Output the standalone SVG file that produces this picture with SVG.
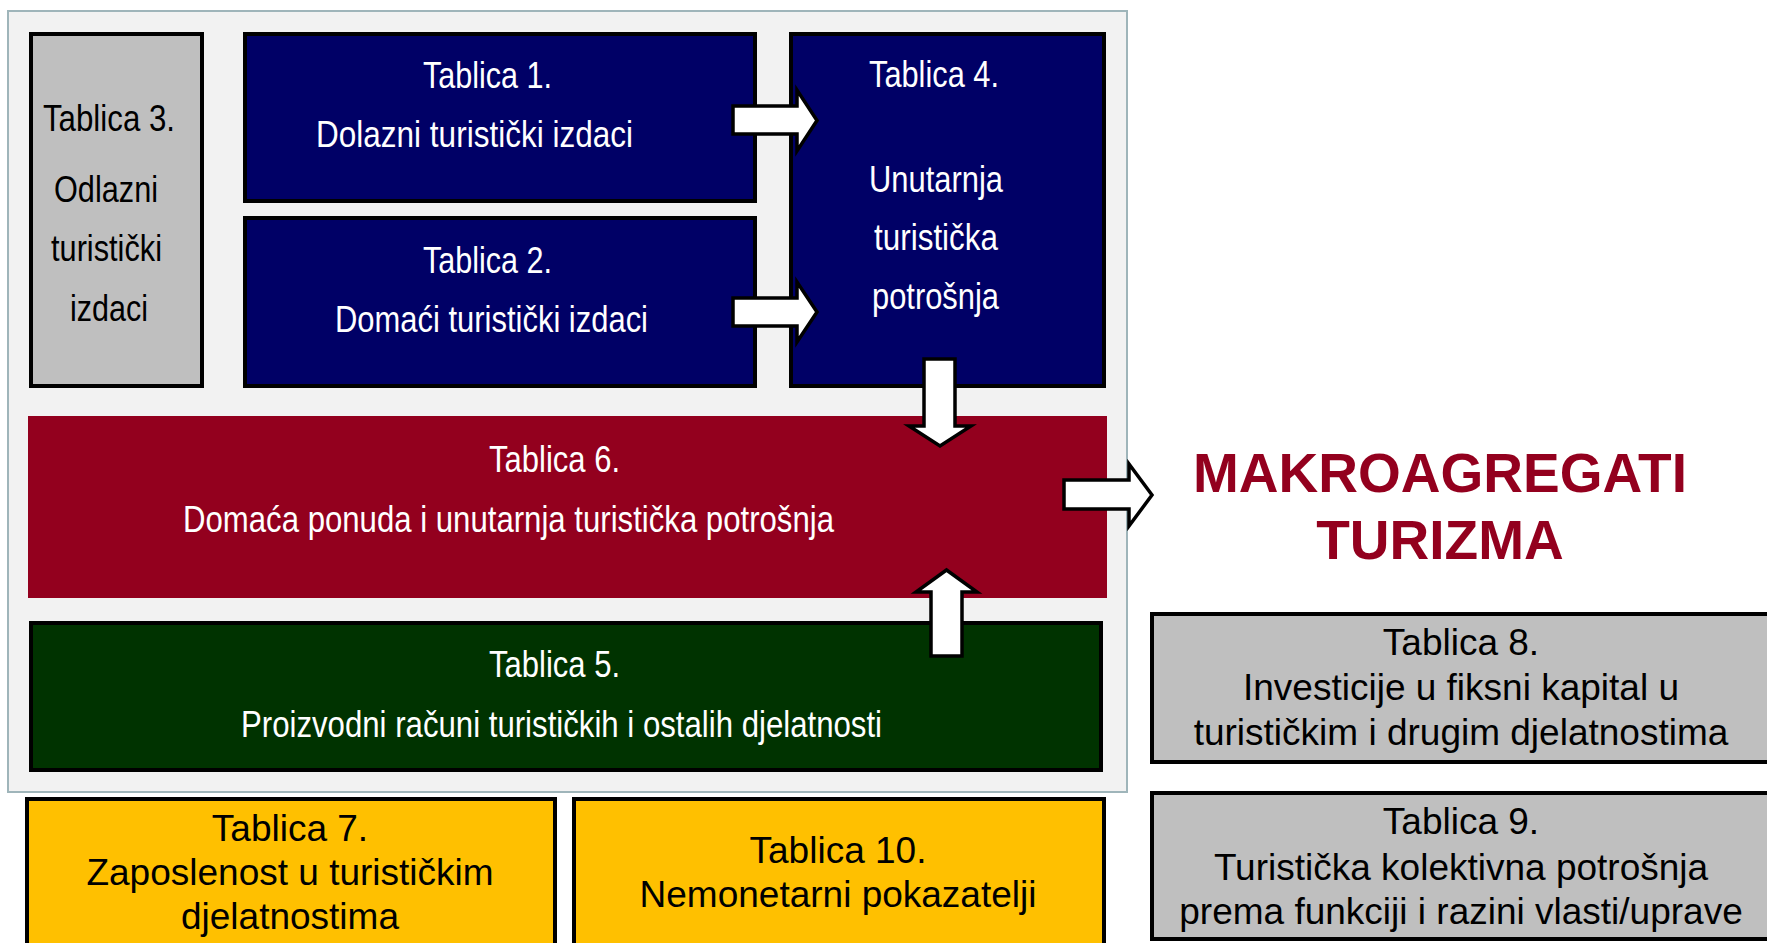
<svg xmlns="http://www.w3.org/2000/svg" width="1767" height="943" viewBox="0 0 1767 943">
<style>
.box{stroke:#000;stroke-width:4}
.navy{fill:#000066}
.gray{fill:#bfbfbf}
.yel{fill:#ffc000}
.grn{fill:#003300}
.red{fill:#93001e}
.tw{font-family:"Liberation Sans",Arial,sans-serif;font-size:36px;fill:#fff;text-anchor:middle}
.tk{font-family:"Liberation Sans",Arial,sans-serif;font-size:37px;fill:#000;text-anchor:middle}
.tkc{font-family:"Liberation Sans",Arial,sans-serif;font-size:36px;fill:#000;text-anchor:middle}
.big{font-family:"Liberation Sans",Arial,sans-serif;font-size:55px;font-weight:bold;fill:#93001e;text-anchor:middle}
.arr{fill:#fff;stroke:#000;stroke-width:3.5;stroke-linejoin:miter}
</style>
<rect width="1767" height="943" fill="#fff"/>
<g id="panel">
<rect x="8" y="11" width="1119" height="781" fill="#f2f2f2" stroke="#9fb5ba" stroke-width="2"/>
</g>
<g id="t3">
<rect class="box gray" x="31" y="34" width="171" height="352"/>
<text class="tkc" x="109" y="131" textLength="132" lengthAdjust="spacingAndGlyphs">Tablica 3.</text>
<text class="tkc" x="106" y="202" textLength="104" lengthAdjust="spacingAndGlyphs">Odlazni</text>
<text class="tkc" x="106.5" y="261" textLength="111" lengthAdjust="spacingAndGlyphs">turistički</text>
<text class="tkc" x="109" y="321" textLength="78" lengthAdjust="spacingAndGlyphs">izdaci</text>
</g>
<g id="t1">
<rect class="box navy" x="245" y="34" width="510" height="167"/>
<text class="tw" x="487.5" y="88" textLength="129" lengthAdjust="spacingAndGlyphs">Tablica 1.</text>
<text class="tw" x="474.5" y="147" textLength="317" lengthAdjust="spacingAndGlyphs">Dolazni  turistički izdaci</text>
</g>
<g id="t2">
<rect class="box navy" x="245" y="218" width="510" height="168"/>
<text class="tw" x="487.5" y="273" textLength="129" lengthAdjust="spacingAndGlyphs">Tablica 2.</text>
<text class="tw" x="491.5" y="332" textLength="313" lengthAdjust="spacingAndGlyphs">Domaći turistički izdaci</text>
</g>
<g id="t4">
<rect class="box navy" x="791" y="34" width="313" height="352"/>
<text class="tw" x="934" y="87" textLength="130" lengthAdjust="spacingAndGlyphs">Tablica 4.</text>
<text class="tw" x="936" y="192" textLength="134" lengthAdjust="spacingAndGlyphs">Unutarnja</text>
<text class="tw" x="936" y="250" textLength="124" lengthAdjust="spacingAndGlyphs">turistička</text>
<text class="tw" x="935.5" y="309" textLength="127" lengthAdjust="spacingAndGlyphs">potrošnja</text>
</g>
<g id="t6">
<rect class="red" x="28" y="416" width="1079" height="182"/>
<text class="tw" x="554.5" y="472" textLength="131" lengthAdjust="spacingAndGlyphs">Tablica 6.</text>
<text class="tw" x="508.5" y="532" textLength="651" lengthAdjust="spacingAndGlyphs">Domaća ponuda i unutarnja turistička potrošnja</text>
</g>
<g id="t5">
<rect class="box grn" x="31" y="623" width="1070" height="147"/>
<text class="tw" x="554.5" y="677" textLength="131" lengthAdjust="spacingAndGlyphs">Tablica 5.</text>
<text class="tw" x="561.5" y="737" textLength="641" lengthAdjust="spacingAndGlyphs">Proizvodni računi turističkih i ostalih djelatnosti</text>
</g>
<g id="t7">
<rect class="box yel" x="27" y="799" width="528" height="200"/>
<text class="tk" x="290" y="841">Tablica 7.</text>
<text class="tk" x="290" y="885">Zaposlenost u turističkim</text>
<text class="tk" x="290" y="929">djelatnostima</text>
</g>
<g id="t10">
<rect class="box yel" x="574" y="799" width="530" height="200"/>
<text class="tk" x="838" y="863">Tablica 10.</text>
<text class="tk" x="838" y="907">Nemonetarni pokazatelji</text>
</g>
<g id="t8">
<rect class="box gray" x="1152" y="614" width="700" height="148"/>
<text class="tk" x="1461" y="655">Tablica 8.</text>
<text class="tk" x="1461" y="700">Investicije u fiksni kapital u</text>
<text class="tk" x="1461" y="745">turističkim i drugim djelatnostima</text>
</g>
<g id="t9">
<rect class="box gray" x="1152" y="793" width="700" height="146"/>
<text class="tk" x="1461" y="834">Tablica 9.</text>
<text class="tk" x="1461" y="880">Turistička kolektivna potrošnja</text>
<text class="tk" x="1461" y="924">prema funkciji i razini vlasti/uprave</text>
</g>
<g id="makro">
<text class="big" x="1440" y="492">MAKROAGREGATI</text>
<text class="big" x="1440" y="559">TURIZMA</text>
</g>
<g id="connectors">
<polygon class="arr" points="733,106 797,106 797,90 817,120.5 797,151 797,134 733,134"/>
<polygon class="arr" points="733,298 797,298 797,282 817,312 797,342 797,326 733,326"/>
<polygon class="arr" points="924,359 955,359 955,426 971,426 940,446 909,426 924,426"/>
<polygon class="arr" points="931,656 962,656 962,592 977,592 946.5,570 916,592 931,592"/>
<polygon class="arr" points="1064,480 1129,480 1129,464 1152,495 1129,526 1129,509 1064,509"/>
</g>
</svg>
